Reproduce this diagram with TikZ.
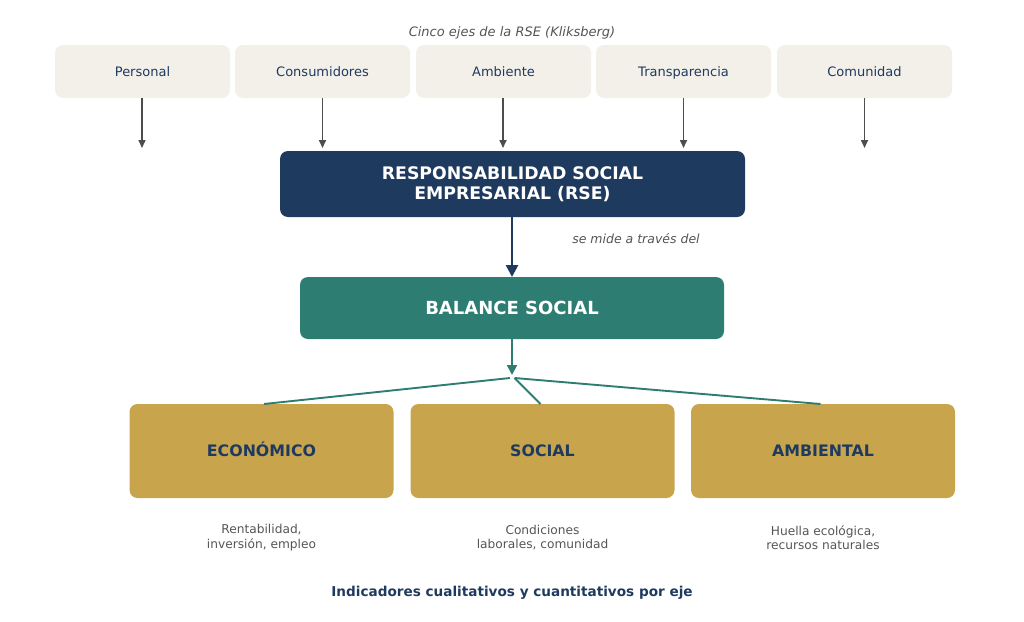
\documentclass[tikz,border=0pt]{standalone}
\usepackage{fontspec}
\setmainfont{DejaVu Sans}
\usetikzlibrary{arrows.meta}
\definecolor{navy}{HTML}{1F3A5F}
\definecolor{teal}{HTML}{2E7D73}
\definecolor{gold}{HTML}{C8A44D}
\definecolor{beige}{HTML}{F3F0E9}
\definecolor{txtgray}{HTML}{555555}
\definecolor{arrgray}{HTML}{4D4D4D}
\tikzset{
  axisbox/.style={fill=beige, rounded corners=8pt, minimum width=175pt, minimum height=53pt, inner sep=0pt, outer sep=0pt, text=navy, text height=9.5pt, text depth=0pt, font=\fontsize{13}{15}\selectfont},
  mainbox/.style={fill=navy, rounded corners=8pt, minimum width=465pt, minimum height=66pt, inner sep=0pt, outer sep=0pt, text=white, align=center, font=\fontsize{17.3}{19.5}\selectfont\bfseries},
  balbox/.style={fill=teal, rounded corners=8pt, minimum width=424pt, minimum height=62pt, inner sep=0pt, outer sep=0pt, text=white, text height=13.1pt, text depth=0pt, font=\fontsize{18}{20}\selectfont\bfseries},
  dimbox/.style={fill=gold, rounded corners=8pt, minimum width=264pt, minimum height=94pt, inner sep=0pt, outer sep=0pt, text=navy, text height=11.5pt, text depth=0pt, font=\fontsize{15.8}{18}\selectfont\bfseries},
  subtxt/.style={text=txtgray, align=center, font=\fontsize{12.2}{14.5}\selectfont},
  grayarrow/.style={draw=arrgray, line width=1.6pt, -{Triangle[length=8pt,width=7pt]}},
  navyarrow/.style={draw=navy, line width=2.6pt, -{Triangle[length=12pt,width=12pt]}},
  tealarrow/.style={draw=teal, line width=2pt, -{Triangle[length=10pt,width=10pt]}},
  branch/.style={draw=teal, line width=1.9pt}
}
\begin{document}
\begin{tikzpicture}[x=1pt,y=-1pt]
\useasboundingbox (0,0) rectangle (1024,621);
\node[text=txtgray, font=\fontsize{13}{15}\selectfont\itshape] (title) at (512,33) {Cinco ejes de la RSE (Kliksberg)};
\node[axisbox] (a1) at (142.5,71.5) {Personal};
\node[axisbox] (a2) at (322.5,71.5) {Consumidores};
\node[axisbox] (a3) at (503.5,71.5) {Ambiente};
\node[axisbox] (a4) at (683.5,71.5) {Transparencia};
\node[axisbox] (a5) at (864.5,71.5) {Comunidad};
\coordinate (e1) at (142,148);
\coordinate (e2) at (322.5,148);
\coordinate (e3) at (503,148);
\coordinate (e4) at (683.5,148);
\coordinate (e5) at (864.5,148);
\draw[grayarrow] (a1.south -| e1) -- (e1);
\draw[grayarrow] (a2.south -| e2) -- (e2);
\draw[grayarrow] (a3.south -| e3) -- (e3);
\draw[grayarrow] (a4.south -| e4) -- (e4);
\draw[grayarrow] (a5.south -| e5) -- (e5);
\node[mainbox] (rse) at (512.5,184) {RESPONSABILIDAD SOCIAL\\EMPRESARIAL (RSE)};
\node[balbox] (bal) at (512,308) {BALANCE SOCIAL};
\draw[navyarrow] (rse.south -| bal.north) -- (bal.north);
\node[text=txtgray, font=\fontsize{12.5}{15}\selectfont\itshape] (mide) at (636,239) {se mide a través del};
\coordinate (split) at (512,375);
\coordinate (sl) at (510,378);
\coordinate (sr) at (514.5,378);
\draw[tealarrow] (bal.south) -- (split);
\node[dimbox] (eco) at (261.5,451) {ECONÓMICO};
\node[dimbox] (soc) at (542.5,451) {SOCIAL};
\node[dimbox] (amb) at (823,451) {AMBIENTAL};
\draw[branch] (sl) -- ([xshift=2.5pt]eco.north);
\draw[branch] (sr) -- ([xshift=-2pt]soc.north);
\draw[branch] (sr) -- ([xshift=-2.5pt]amb.north);
\node[subtxt] (t1) at (261.5,537.5) {Rentabilidad,\\inversión, empleo};
\node[subtxt] (t2) at (542.5,537.5) {Condiciones\\laborales, comunidad};
\node[subtxt] (t3) at (823,537.5) {Huella ecológica,\\recursos naturales};
\node[text=navy, font=\fontsize{13.6}{16}\selectfont\bfseries] (foot) at (512,593) {Indicadores cualitativos y cuantitativos por eje};
\end{tikzpicture}
\end{document}
